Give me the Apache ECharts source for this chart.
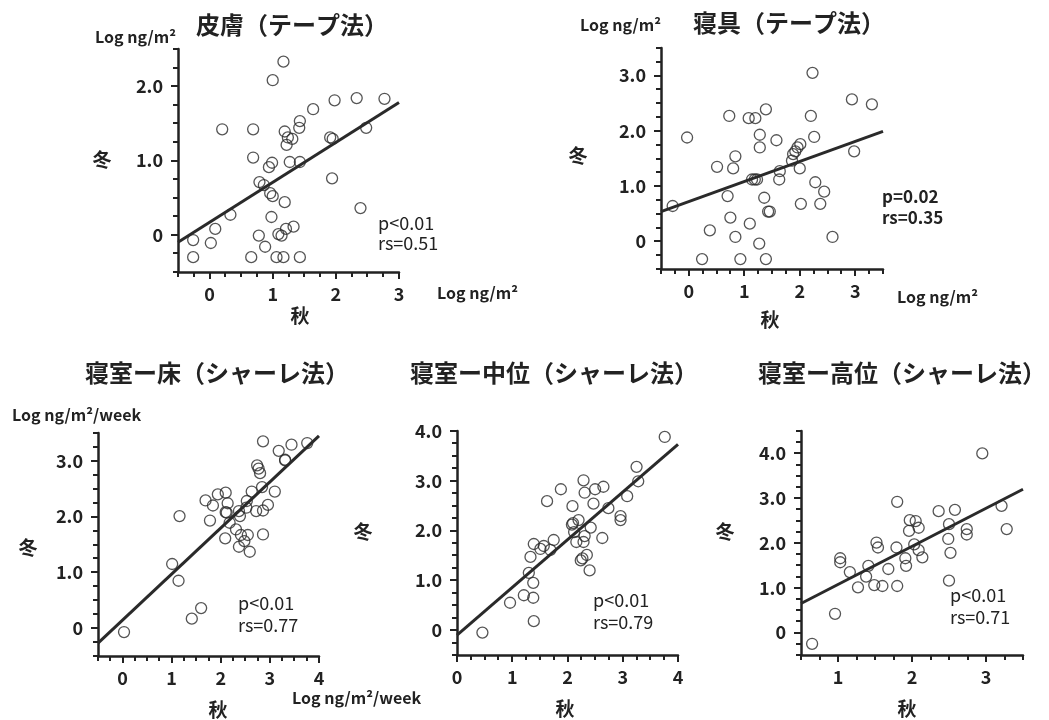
<!DOCTYPE html>
<html>
<head>
<meta charset="utf-8">
<script src="https://cdn.jsdelivr.net/npm/echarts@6/dist/echarts.min.js"></script>
<style>
  html, body { margin: 0; padding: 0; background: #fff; }
  #chart { width: 1049px; height: 720px; }
</style>
</head>
<body>
<div id="chart"></div>
<script>
// titles of the five panels
const panelTitles = ['皮膚（テープ法）', '寝具（テープ法）', '寝室ー床（シャーレ法）', '寝室ー中位（シャーレ法）', '寝室ー高位（シャーレ法）'];
const statTexts = [['p<0.01', 'rs=0.51'], ['p=0.02', 'rs=0.35'], ['p<0.01', 'rs=0.77'], ['p<0.01', 'rs=0.79'], ['p<0.01', 'rs=0.71']];

// axis ranges [xmin, xmax, ymin, ymax]
const ranges = [
  [-0.5, 3, -0.5, 2.5],
  [-0.5, 3.5, -0.5, 3.5],
  [-0.5, 4, -0.5, 3.5],
  [0, 4, -0.5, 4],
  [0.5, 3.5, -0.5, 4.5]
];
// labelled tick values
const xLabelVals = [[0, 1, 2, 3], [0, 1, 2, 3], [0, 1, 2, 3, 4], [0, 1, 2, 3, 4], [1, 2, 3]];
const yLabelVals = [[0, 1, 2], [0, 1, 2, 3], [0, 1, 2, 3], [0, 1, 2, 3, 4], [0, 1, 2, 3, 4]];
const tickStep = 0.25;

// [autumn, winter] pairs
const skinTape = [
  [1.17, 2.33], [1.0, 2.08], [0.2, 1.42], [0.69, 1.42], [1.64, 1.69], [1.43, 1.53], [1.42, 1.44],
  [1.19, 1.39], [1.24, 1.31], [1.31, 1.29], [1.22, 1.21], [1.91, 1.31], [1.95, 1.29], [1.98, 1.81],
  [2.33, 1.84], [2.77, 1.83], [2.48, 1.44], [0.69, 1.04], [0.99, 0.97], [0.94, 0.91], [1.27, 0.98],
  [1.43, 0.98], [0.79, 0.71], [0.86, 0.67], [0.96, 0.56], [1.0, 0.52], [1.19, 0.44], [1.94, 0.76],
  [2.39, 0.36], [0.33, 0.27], [0.98, 0.24], [0.09, 0.08], [1.33, 0.11], [1.21, 0.08], [0.78, -0.01],
  [1.09, 0.01], [1.14, -0.01], [-0.26, -0.07], [0.02, -0.11], [0.88, -0.16], [-0.26, -0.30],
  [0.66, -0.30], [1.06, -0.30], [1.17, -0.30], [1.43, -0.30]
];
const beddingTape = [
  [2.23, 3.05], [2.94, 2.57], [3.30, 2.48], [0.73, 2.27], [1.08, 2.23], [1.20, 2.23], [1.39, 2.39],
  [2.20, 2.27], [-0.03, 1.88], [1.28, 1.93], [2.26, 1.89], [1.58, 1.83], [1.28, 1.70], [2.01, 1.76],
  [1.96, 1.70], [1.92, 1.63], [1.88, 1.58], [2.98, 1.63], [0.84, 1.54], [1.86, 1.46], [0.51, 1.35],
  [0.80, 1.32], [2.0, 1.32], [1.64, 1.27], [1.14, 1.12], [1.23, 1.12], [1.19, 1.12], [1.63, 1.12],
  [2.28, 1.07], [2.44, 0.90], [0.70, 0.82], [1.36, 0.79], [2.02, 0.68], [2.37, 0.68], [1.43, 0.54],
  [1.46, 0.54], [-0.29, 0.64], [0.75, 0.43], [1.10, 0.32], [0.38, 0.20], [0.84, 0.08], [2.59, 0.08],
  [1.27, -0.04], [0.24, -0.32], [0.93, -0.32], [1.39, -0.32]
];
const roomFloor = [
  [2.86, 3.35], [3.44, 3.29], [3.76, 3.32], [3.18, 3.18], [3.31, 3.02], [3.31, 3.01], [2.74, 2.92],
  [2.77, 2.86], [2.80, 2.78], [2.84, 2.53], [3.10, 2.45], [2.63, 2.45], [1.69, 2.29], [1.94, 2.40],
  [2.10, 2.43], [1.84, 2.20], [2.14, 2.24], [2.53, 2.28], [2.52, 2.16], [2.72, 2.10], [2.86, 2.11],
  [2.96, 2.21], [1.16, 2.01], [2.12, 2.07], [2.10, 2.08], [2.37, 2.10], [2.39, 2.01], [1.78, 1.93],
  [2.18, 1.89], [2.31, 1.77], [2.09, 1.61], [2.41, 1.67], [2.55, 1.67], [2.86, 1.68], [2.48, 1.56],
  [2.37, 1.46], [2.59, 1.37], [1.01, 1.15], [1.14, 0.85], [1.60, 0.36], [1.41, 0.17], [0.03, -0.07]
];
const roomMiddle = [
  [3.76, 3.88], [3.25, 3.28], [3.28, 2.99], [3.08, 2.69], [2.96, 2.29], [2.96, 2.21], [2.74, 2.45],
  [2.65, 2.88], [2.50, 2.83], [2.29, 3.01], [2.31, 2.76], [1.88, 2.83], [1.63, 2.59], [2.09, 2.49],
  [2.47, 2.54], [2.08, 2.12], [2.10, 2.15], [2.20, 2.21], [2.12, 1.97], [2.42, 2.06], [2.31, 1.89],
  [2.16, 1.77], [2.29, 1.77], [2.63, 1.85], [2.24, 1.40], [2.27, 1.44], [2.35, 1.51], [2.40, 1.20],
  [1.75, 1.81], [1.69, 1.61], [1.57, 1.69], [1.51, 1.63], [1.39, 1.73], [1.33, 1.47], [1.30, 1.15],
  [1.38, 0.95], [1.38, 0.65], [1.21, 0.70], [0.96, 0.55], [1.39, 0.18], [0.46, -0.05]
];
const roomHigh = [
  [2.95, 4.0], [1.80, 2.92], [2.36, 2.71], [2.58, 2.74], [3.21, 2.83], [3.28, 2.31], [2.74, 2.31],
  [2.74, 2.19], [2.50, 2.42], [1.97, 2.51], [2.05, 2.49], [1.96, 2.27], [2.09, 2.34], [1.52, 2.01],
  [1.54, 1.90], [1.79, 1.90], [2.03, 1.97], [2.09, 1.84], [2.14, 1.68], [1.91, 1.66], [1.92, 1.49],
  [2.49, 2.09], [2.52, 1.78], [1.03, 1.66], [1.03, 1.57], [1.16, 1.35], [1.41, 1.49], [1.38, 1.25],
  [1.68, 1.42], [1.27, 1.01], [1.49, 1.06], [1.60, 1.04], [1.80, 1.04], [2.50, 1.16], [0.96, 0.42],
  [0.65, -0.25]
];
const panelPoints = [skinTape, beddingTape, roomFloor, roomMiddle, roomHigh];

// regression line end points
const fitLines = [
  [[-0.5, -0.1], [3, 1.78]],
  [[-0.5, 0.54], [3.5, 1.99]],
  [[-0.5, -0.27], [4, 3.45]],
  [[0, -0.1], [4, 3.73]],
  [[0.5, 0.65], [3.5, 3.2]]
];

// grid boxes in px [left, top, width, height]
const boxes = [
  [178, 49, 221, 223],
  [661, 48, 222, 221],
  [98, 433, 221, 223],
  [457, 431, 221, 224],
  [801, 431, 222, 224]
];

const FONT = '"Noto Sans CJK JP", "Noto Sans", sans-serif';
const INK = '#222';

const quarterSteps = (lo, hi) => {
  const out = [];
  for (let k = 0; lo + k * tickStep <= hi + 1e-9; k++) out.push(lo + k * tickStep);
  return out;
};
const isInt = v => Math.abs(v - Math.round(v)) < 1e-6;

const grid = [], xAxis = [], yAxis = [], series = [];
boxes.forEach((b, i) => {
  grid.push({ left: b[0], top: b[1], width: b[2], height: b[3] });
  const r = ranges[i];
  const lineOpt = { show: true, onZero: false, lineStyle: { color: INK, width: 2.5 } };
  xAxis.push({
    type: 'value', gridIndex: i, min: r[0], max: r[1], interval: tickStep,
    splitLine: { show: false }, axisLine: lineOpt, axisTick: { show: false },
    axisLabel: {
      customValues: xLabelVals[i],
      margin: 13, color: INK, fontFamily: FONT, fontWeight: 'bold', fontSize: 18,
      formatter: v => String(v)
    }
  });
  yAxis.push({
    type: 'value', gridIndex: i, min: r[2], max: r[3], interval: tickStep,
    splitLine: { show: false }, axisLine: lineOpt, axisTick: { show: false },
    axisLabel: {
      customValues: yLabelVals[i],
      margin: 15, color: INK, fontFamily: FONT, fontWeight: 'bold', fontSize: 18,
      formatter: v => (v === 0 ? '0' : v.toFixed(1))
    }
  });
  series.push({
    type: 'line', xAxisIndex: i, yAxisIndex: i,
    data: fitLines[i], symbol: 'none', silent: true,
    lineStyle: { color: '#2a2a2a', width: 3 }
  });
  series.push({
    type: 'scatter', xAxisIndex: i, yAxisIndex: i,
    data: panelPoints[i], symbol: 'circle', symbolSize: 11,
    itemStyle: { color: 'rgba(255,255,255,0)', borderColor: '#2a2a2a', borderWidth: 1.3 }
  });
});

const titleCenters = [[292, 25], [789, 23], [217, 373], [554, 373], [902, 373]];
const winterPos = [[102, 160], [578, 156], [28, 548], [363, 532], [725, 532]];
const autumnPos = [[300, 316], [770, 320], [218, 710], [565, 709], [907, 709]];
const statPos = [[378, 223, 243], [882, 197, 218], [238, 603, 625], [593, 600, 622], [950, 595, 617]];

const graphic = [];
titleCenters.forEach((p, i) => {
  graphic.push({
    type: 'text', x: p[0], y: p[1],
    style: { text: panelTitles[i], fill: INK, font: 'bold 24px ' + FONT, textAlign: 'center', textVerticalAlign: 'middle' }
  });
});
winterPos.forEach(p => graphic.push({
  type: 'text', x: p[0], y: p[1],
  style: { text: '冬', fill: INK, font: 'bold 19px ' + FONT, textAlign: 'center', textVerticalAlign: 'middle' }
}));
autumnPos.forEach(p => graphic.push({
  type: 'text', x: p[0], y: p[1],
  style: { text: '秋', fill: INK, font: 'bold 19px ' + FONT, textAlign: 'center', textVerticalAlign: 'middle' }
}));
statPos.forEach((p, i) => {
  const f = i === 1 ? 'bold 17px ' : 'normal 18px ';
  [0, 1].forEach(k => graphic.push({
    type: 'text', x: p[0], y: p[k + 1],
    style: { text: statTexts[i][k], fill: INK, font: f + FONT, textAlign: 'left', textVerticalAlign: 'middle' }
  }));
});
// unit labels
[[95, 37, 'Log ng/m²'], [437, 293, 'Log ng/m²'], [580, 25, 'Log ng/m²'], [897, 297, 'Log ng/m²'],
 [12, 415, 'Log ng/m²/week'], [292, 698, 'Log ng/m²/week']].forEach(u => graphic.push({
  type: 'text', x: u[0], y: u[1],
  style: { text: u[2], fill: INK, font: 'bold 16px ' + FONT, textAlign: 'left', textVerticalAlign: 'middle' }
}));

// outward tick marks along each grid's frame (same linear mapping as the value axes)
boxes.forEach((b, i) => {
  const r = ranges[i];
  const bottom = b[1] + b[3];
  quarterSteps(r[0], r[1]).forEach(v => {
    const px = Math.round(b[0] + (v - r[0]) / (r[1] - r[0]) * b[2]);
    const len = isInt(v) ? 7 : 5;
    graphic.push({ type: 'rect', shape: { x: px - 1, y: bottom, width: 2, height: len }, style: { fill: INK }, z: 10 });
  });
  quarterSteps(r[2], r[3]).forEach(v => {
    const py = Math.round(bottom - (v - r[2]) / (r[3] - r[2]) * b[3]);
    const len = isInt(v) ? 7 : 5;
    graphic.push({ type: 'rect', shape: { x: b[0] - len, y: py - 1, width: len, height: 2 }, style: { fill: INK }, z: 10 });
  });
});

const chart = echarts.init(document.getElementById('chart'));
chart.setOption({
  animation: false,
  backgroundColor: '#fff',
  grid: grid,
  xAxis: xAxis,
  yAxis: yAxis,
  series: series,
  graphic: graphic
});
</script>
</body>
</html>
